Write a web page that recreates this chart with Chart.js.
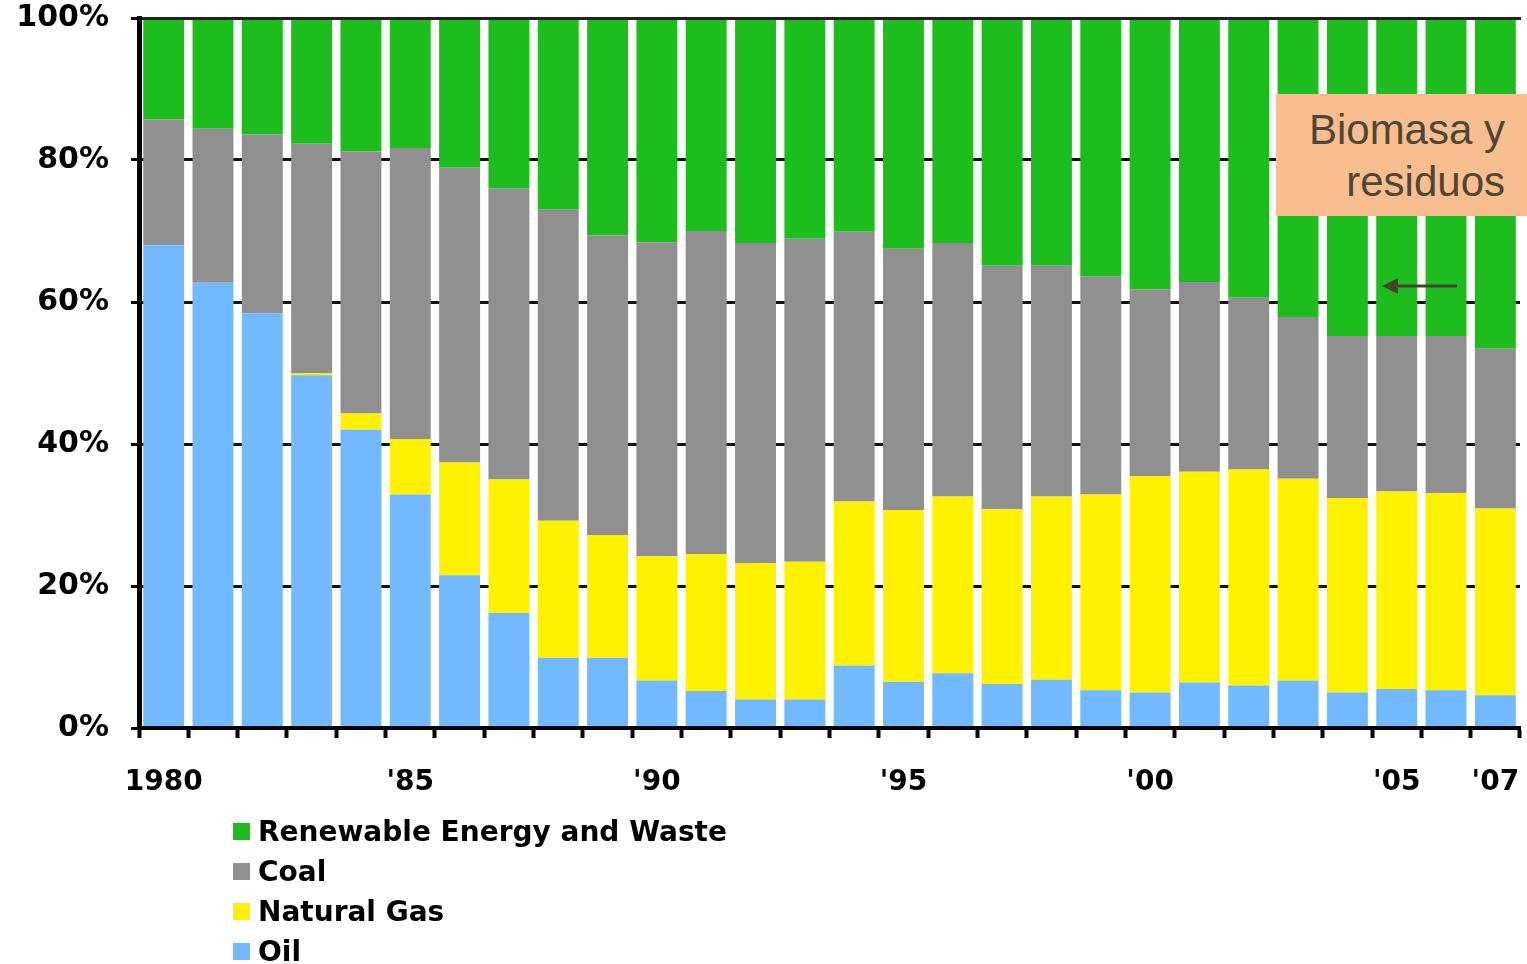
<!DOCTYPE html>
<html>
<head>
<meta charset="utf-8">
<script src="https://cdn.jsdelivr.net/npm/chart.js@4"></script>
<style>
  html, body { margin: 0; padding: 0; background: #fff; }
  #wrap { position: relative; width: 1527px; height: 964px; overflow: hidden; }
  #chart { position: absolute; left: 0; top: 0; }
  #legend { position: absolute; left: 233px; top: 811px; font: bold 28px "DejaVu Sans", sans-serif; color: #000; }
  #legend .item { display: flex; align-items: center; height: 40px; white-space: nowrap; }
  #legend .sw { width: 17px; height: 17px; margin-right: 8px; flex: none; }
  #note { position: absolute; left: 1276px; top: 94px; width: 251px; height: 122px; box-sizing: border-box;
          background: #F8BE90; color: #4D4733; text-align: right; padding: 10px 22px 0 0;
          font: 42px/52px "Liberation Sans", Arial, sans-serif; }
  #arrow { position: absolute; left: 0; top: 0; pointer-events: none; }
</style>
</head>
<body>
<div id="wrap">
  <canvas id="chart" width="1527" height="964"></canvas>
  <div id="legend"></div>
  <div id="note">Biomasa y<br>residuos</div>
  <svg id="arrow" width="1527" height="964">
    <line x1="1457" y1="286" x2="1396" y2="286" stroke="#4A4030" stroke-width="3"/>
    <polygon points="1382,286 1398,278 1398,294" fill="#4A4030"/>
  </svg>
</div>
<script>
// Share of primary energy supply by source, 1980-2007 (percent of total)
const years = ['1980','1981','1982','1983','1984','1985','1986','1987','1988','1989',
               '1990','1991','1992','1993','1994','1995','1996','1997','1998','1999',
               '2000','2001','2002','2003','2004','2005','2006','2007'];
const xTickLabels = ['1980','','','','',"'85",'','','','',
                     "'90",'','','','',"'95",'','','','',
                     "'00",'','','','',"'05",'',"'07"];
const yTicks = [0, 20, 40, 60, 80, 100];

const oil       = [68.0, 62.7, 58.4, 49.7, 42.0, 32.9, 21.5, 16.2,  9.9,  9.9,
                    6.7,  5.2,  4.0,  4.0,  8.8,  6.5,  7.7,  6.2,  6.8,  5.3,
                    5.0,  6.4,  6.0,  6.7,  5.0,  5.5,  5.3,  4.6];
const naturalGas= [ 0.0,  0.0,  0.0,  0.3,  2.3,  7.8, 15.9, 18.8, 19.3, 17.3,
                   17.5, 19.3, 19.2, 19.4, 23.1, 24.2, 24.9, 24.6, 25.8, 27.6,
                   30.5, 29.7, 30.4, 28.4, 27.4, 27.8, 27.8, 26.3];
const coal      = [17.7, 21.7, 25.2, 32.3, 36.9, 41.0, 41.5, 41.0, 43.8, 42.2,
                   44.2, 45.5, 45.1, 45.5, 38.0, 36.8, 35.7, 34.3, 32.5, 30.7,
                   26.3, 26.7, 24.2, 22.8, 22.8, 21.9, 22.1, 22.5];
const renewable = [14.3, 15.6, 16.4, 17.7, 18.8, 18.3, 21.1, 24.0, 27.0, 30.6,
                   31.6, 30.0, 31.7, 31.1, 30.1, 32.5, 31.7, 34.9, 34.9, 36.4,
                   38.2, 37.2, 39.4, 42.1, 44.8, 44.8, 44.8, 46.6];

const seriesNames  = ['Oil', 'Natural Gas', 'Coal', 'Renewable Energy and Waste'];
const seriesColors = ['#73B9FF', '#FFF200', '#909090', '#1EBD1E'];
const seriesValues = [oil, naturalGas, coal, renewable];

const datasets = seriesNames.map((name, i) => ({
  label: name,
  data: seriesValues[i],
  backgroundColor: seriesColors[i],
  borderWidth: 0,
  barPercentage: 0.83,
  categoryPercentage: 1.0
}));

// Legend, top of the stack first
const legend = document.getElementById('legend');
for (let i = seriesNames.length - 1; i >= 0; i--) {
  const row = document.createElement('div');
  row.className = 'item';
  const sw = document.createElement('span');
  sw.className = 'sw';
  sw.style.background = seriesColors[i];
  const tx = document.createElement('span');
  tx.textContent = seriesNames[i];
  row.appendChild(sw);
  row.appendChild(tx);
  legend.appendChild(row);
}

const tickFont = { family: 'DejaVu Sans', weight: 'bold', size: 28 };

// keep tick label overhang from shrinking the plot area
const noOverhang = s => { s.paddingLeft = 0; s.paddingRight = 0; s.paddingTop = 0; s.paddingBottom = 0; };

new Chart(document.getElementById('chart'), {
  type: 'bar',
  data: { labels: years, datasets },
  options: {
    responsive: false,
    animation: false,
    devicePixelRatio: 1,
    layout: { padding: { top: 18, right: 7, left: 0, bottom: 0 } },
    plugins: { legend: { display: false }, tooltip: { enabled: false } },
    scales: {
      x: {
        stacked: true,
        offset: true,
        grid: { offset: true, drawOnChartArea: false, drawTicks: true,
                tickLength: 10, tickWidth: 4, tickColor: '#000' },
        border: { display: true, color: '#000', width: 4, z: 1 },
        ticks: { autoSkip: false, maxRotation: 0, padding: 28, color: '#000',
                 font: tickFont, callback: (v, i) => xTickLabels[i] },
        afterFit: s => { s.height = 236; noOverhang(s); }
      },
      xTop: {
        type: 'category',
        labels: years,
        position: 'top',
        offset: true,
        grid: { display: false, drawTicks: false },
        ticks: { display: false },
        border: { display: true, color: '#222', width: 3, z: 1 },
        afterFit: s => { s.height = 0; noOverhang(s); }
      },
      y: {
        stacked: true,
        min: 0,
        max: 100,
        afterBuildTicks: s => { s.ticks = yTicks.map(v => ({ value: v })); },
        grid: { color: '#111', lineWidth: 3, tickLength: 8, tickWidth: 3, tickColor: '#000' },
        border: { display: true, color: '#000', width: 5, z: 1 },
        ticks: { padding: 22, color: '#000',
                 font: { family: 'DejaVu Sans', weight: 'bold', size: 30 },
                 callback: v => v + '%' },
        afterFit: s => { s.width = 139; noOverhang(s); }
      }
    }
  }
});
</script>
</body>
</html>
